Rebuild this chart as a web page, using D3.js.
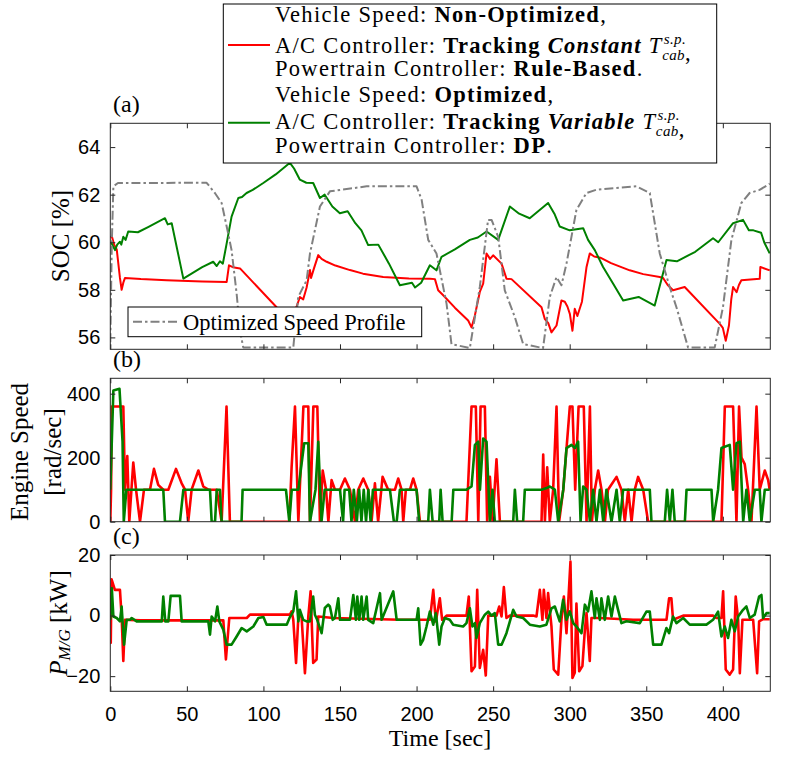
<!DOCTYPE html>
<html>
<head>
<meta charset="utf-8">
<script src="https://cdn.jsdelivr.net/npm/d3@7"></script>
<style>
  body { margin: 0; background: #fff; }
  text { fill: #000; }
</style>
</head>
<body>
<div id="fig"></div>
<script>
// tick values
const timeTicks = [0, 50, 100, 150, 200, 250, 300, 350, 400];
const socTicks = [56, 58, 60, 62, 64];
const engTicks = [0, 200, 400];
const pmgTicks = [-20, 0, 20];

// (a) SOC [%]  -- [time, value]
const socRed = [[0,60.2],[1,60.25],[2.5,59.9],[4.2,59.7],[6.3,58.5],[7.4,58],[8.5,58.3],[9.6,58.5],[20,58.45],[36.8,58.4],[60,58.35],[76,58.33],[77.5,59.03],[80,58.95],[84.7,58.9],[108.6,57.27],[116,56.8],[121.7,57.3],[123.8,57.7],[126,57.6],[128.2,58.1],[130.4,58.83],[131.1,58.5],[133,58.9],[135.8,59.46],[138,59.3],[141.3,59.18],[147,59.02],[156.5,58.83],[165,58.68],[178.2,58.54],[195,58.48],[208.7,58.47],[212,58.45],[214.1,57.98],[217.4,57.77],[225,57.25],[233.7,56.71],[235.9,56.42],[238,56.9],[241.3,57.91],[243.5,58.26],[245.7,59.53],[248,59.3],[250,59.45],[255.5,59.1],[258.7,58.47],[262,58.45],[281.6,57.27],[283.7,56.78],[286,56.6],[288.1,56.21],[291.4,56.5],[294.6,57.55],[296.8,57.5],[298.5,57.3],[300.1,56.99],[301.8,56.28],[303.3,57.2],[305,56.9],[308,57.5],[311,58.96],[313.1,59.53],[316,59.4],[320,59.35],[327,59.12],[339.2,58.82],[348,58.66],[358.8,58.54],[361,58.5],[364,58.2],[367.5,57.98],[375.1,58.12],[398,56.57],[400,56.4],[401.9,55.86],[404,56.5],[405.5,57.6],[406.7,58.12],[409,57.9],[410.5,58.2],[412.1,58.4],[424.1,58.47],[424.5,58.96],[430.6,58.82]];
const socGreen = [[0,60],[0.9,59.95],[3.1,59.67],[4.5,59.9],[6.3,60.02],[7.2,59.9],[8.5,60.23],[10,60.1],[11.7,60.45],[18,60.42],[25,60.65],[35.7,61.01],[37.5,60.75],[40.1,60.8],[47.7,58.47],[60,58.95],[67.2,59.18],[69.5,59],[71.6,59.2],[73.5,59.1],[76,59.95],[79.2,61.08],[83.6,61.86],[86,61.9],[89,62.07],[93,62.2],[99.9,62.49],[108,62.85],[117.3,63.34],[120,63.1],[123.8,62.63],[128,62.5],[132.5,62.49],[136.9,61.86],[140,62],[145,61.5],[149.9,61.22],[155,61.3],[160,60.8],[164,60.5],[168.4,59.88],[175,59.9],[182,59.1],[189.1,58.19],[197,58.3],[199,58.1],[203,58.3],[208.7,59.03],[213,58.82],[216.3,59.39],[225,59.7],[234.8,60.1],[240,60.2],[245.7,60.45],[253.3,60.1],[260.9,61.5],[267,61.2],[273.9,61.01],[285.9,61.65],[290,61.2],[293.5,60.66],[300,60.5],[308.8,60.59],[312,60.1],[316.4,59.67],[321.8,58.96],[328,58.3],[334.9,57.55],[345,57.7],[355.5,57.34],[363.2,59.25],[370,59.2],[382,59.6],[393.6,60.17],[397,60],[406.7,60.8],[413.2,60.94],[417,60.5],[420,60.5],[425,60.4],[427,60],[430.6,59.53]];
const speedProfile = [[0,55.8],[1,60],[2,62.35],[5,62.49],[62.9,62.5],[68.3,62.07],[72.7,61.65],[76,60.66],[79.2,59.67],[82.5,57.84],[84.7,56.29],[86.8,55.58],[119.5,55.58],[122.7,57.7],[128.2,58.4],[130.4,59.53],[136.9,61.5],[143.4,62.14],[167.4,62.35],[200,62.35],[203.3,61.79],[207.6,60.1],[213,59.53],[219.6,57.41],[222.8,55.72],[234.8,55.55],[241.3,58.12],[246.7,60.94],[249,60.94],[253.3,60.23],[257.6,57.98],[264.2,56.85],[269.6,55.72],[282.6,55.55],[287,57.7],[291.4,58.54],[294.6,58.19],[297.9,59.1],[304.4,61.36],[310.9,62.07],[317.5,62.21],[343.6,62.35],[352.3,62.07],[358.8,59.53],[365.3,58.12],[369.7,57.27],[377.3,55.58],[394.7,55.58],[400.1,57.27],[405.6,60.1],[412.1,61.65],[417.5,62.07],[424,62.2],[430.6,62.46]];

// (b) Engine speed [rad/sec]
const engRed = [[0,0],[0.5,100],[1,360],[8.5,360],[9.6,100],[11.1,205],[12.4,0],[15,185],[16.8,100],[19.4,0],[22,100],[25.9,100],[28.5,165],[31.3,115],[34.6,100],[37.9,100],[42.9,165],[46.6,120],[48.8,100],[50.9,0],[53.1,100],[57.5,160],[60.7,110],[64,100],[69.5,100],[72.7,0],[75.9,360],[78.1,0],[116.9,0],[118.4,170],[120.6,360],[122.8,0],[126.1,360],[129.3,360],[130.4,0],[132.6,360],[135.2,360],[136.9,0],[138.7,160],[140.9,100],[142.4,0],[144.5,130],[146.7,100],[150,100],[153.2,135],[156.5,100],[159.8,0],[161.9,100],[165.2,135],[168.4,100],[170.6,0],[172.8,120],[174.9,0],[177.8,140],[181.5,100],[185.9,100],[188,135],[190.2,100],[191.3,0],[193,100],[195.7,100],[197.8,135],[200,100],[202.2,0],[232.6,0],[235.9,360],[238.7,360],[240.3,0],[241.8,360],[244.6,360],[246.1,0],[247.9,140],[249.6,0],[252.2,195],[254.4,0],[281.6,0],[282.7,210],[283.8,0],[285.3,170],[287,0],[289.2,100],[291.4,360],[293.1,0],[295.8,100],[300.1,360],[301.8,360],[303.6,100],[305.8,360],[309.2,360],[311,0],[313.2,360],[314.5,0],[316.4,100],[318.6,160],[320.8,100],[323,0],[325,100],[330.6,140],[333.8,100],[336,0],[338.2,100],[340.4,0],[342.5,100],[344.7,140],[348,100],[351.2,0],[399.1,0],[401.3,360],[406.7,360],[408.9,0],[410.6,360],[412.2,200],[414.3,180],[416.5,100],[418.7,0],[422,360],[424.1,100],[427.4,160],[429.6,130],[430.6,100]];
const engGreen = [[0,100],[2,410],[6,415],[8,250],[8.8,0],[10.5,100],[34.6,100],[35.7,0],[45.5,0],[47.7,100],[65.1,100],[66.2,0],[68.4,0],[69.5,100],[71.6,100],[72.7,0],[85.7,0],[86.4,100],[114.7,100],[116.9,0],[118.5,100],[122.8,100],[126.6,245],[129.3,245],[130.4,0],[134,100],[135.8,250],[137.9,0],[140,100],[150,100],[152,0],[153,100],[156,100],[157.5,0],[159,100],[161,0],[162.5,100],[164,0],[165.5,100],[167,0],[168.5,100],[170,0],[171.5,100],[182.6,100],[185.2,0],[187,0],[189.1,100],[200,100],[201.7,0],[207.6,0],[208.7,100],[210.5,0],[214.8,0],[215.7,100],[217,0],[222.9,0],[224,100],[232.6,100],[235.9,110],[238.1,240],[240.3,250],[241.4,100],[243.5,260],[245.7,250],[247.9,0],[249.6,100],[251.1,0],[263.1,0],[264.2,100],[265.7,0],[269.6,0],[270.7,100],[281.6,100],[284.9,105],[287,110],[290.3,100],[292.5,0],[295.8,100],[297.9,230],[301.2,240],[303.4,230],[305.5,250],[307.1,0],[308.8,110],[311,100],[313.2,0],[315.3,100],[317.5,0],[319.7,100],[321.9,0],[324,100],[327.3,0],[330.6,100],[332.7,0],[334.9,100],[352.3,100],[353.4,0],[362.1,0],[363.6,100],[365.4,0],[367.1,100],[368.6,0],[375.2,0],[376.3,100],[392.6,100],[393.7,0],[396.9,100],[399.1,230],[404.5,240],[406.7,100],[408.9,245],[411.1,250],[413.3,0],[415.4,100],[417.6,0],[420.9,100],[424.1,100],[425.2,0],[427.4,100],[430.6,100]];

// (c) P_M/G [kW]
const pmgRed = [[0,-1],[0.3,-9],[0.8,12],[3,8.5],[6.3,8.5],[7.4,-0.3],[8.5,-15],[9.6,-1.4],[20,-1.6],[73.8,-1.6],[75.5,-14.5],[77.7,-0.8],[89.1,-0.8],[91.2,0.3],[117.3,0.3],[118.4,1.4],[119.5,-1.4],[121.3,-15.6],[122.8,-0.3],[124.9,-0.3],[127.1,-19],[129.3,-0.3],[130.8,8],[132.5,-15.6],[134.7,-14.5],[135.8,-0.3],[145.6,-0.8],[189.1,-1.4],[208.7,-1.4],[210.9,8.5],[212.6,-1.9],[215.2,5.7],[216.7,-1.4],[219.6,0],[232.6,0],[234.1,6.3],[235.9,-18.4],[238.1,-16.8],[239.6,8.5],[241.3,-17.3],[243.5,-11.3],[245.2,-19.8],[246.8,0],[252.2,0],[254,3],[255.5,-0.3],[257,9.4],[258.7,-0.8],[260.9,0],[276.1,0],[278.3,-0.3],[280.5,8.5],[282.2,-1.4],[283.1,8.5],[284.8,-0.8],[285.9,7.4],[288.1,-3.6],[289.6,-17.8],[292.5,-19.5],[294.6,-1.4],[296.2,6.3],[297.9,-5.8],[299,4],[300.5,17.8],[301.8,-20.6],[303.3,-18.9],[304.4,4],[306.2,-18.4],[308.3,-16.7],[309.9,-4.7],[311,0.8],[313.1,-15],[314.2,-0.8],[319.7,-0.8],[341.4,-1.4],[363.2,-1.4],[364.9,5.7],[366.4,5.7],[367.5,-1.4],[374.1,0],[393.6,0],[395.8,-0.8],[399.1,-0.8],[400.2,8],[401.9,-17.8],[404.5,-19.5],[406.7,-17.8],[408.4,6.3],[410,-1.4],[411.1,-19],[412.8,-1.4],[419.8,-1.4],[422.4,-19],[423.7,-1.9],[426.3,-1.2],[430.6,-1.2]];
const pmgGreen = [[0,-1.4],[1,9],[2,-0.3],[4.2,-0.8],[6.3,-1.9],[7.4,3],[9,-9.6],[10.7,-1.4],[12.9,-1.4],[14,-0.8],[17.2,-1.9],[33.6,-1.9],[34.6,6.3],[35.9,-1.9],[37.9,-1.9],[39.4,6.5],[45.5,6.5],[46.6,-1.9],[64,-1.9],[65.1,-6.3],[66.2,-0.3],[68.4,-1.9],[69.9,3],[71.2,-1.9],[73.8,-4.7],[76,-9.6],[79.2,-9.6],[82.5,-6.9],[85.8,-4.1],[89.1,-5.2],[93.4,-3.6],[96.7,-0.8],[100,-0.5],[102.1,-3],[115.2,-3],[117.3,-0.5],[119.5,1.4],[121.3,8],[122.8,-1.9],[123.8,1.9],[126,-1.4],[128.2,-1.9],[130.4,-1.9],[132.5,6.3],[133.6,0.3],[135.1,-1.4],[138,-5.8],[140.1,2.5],[142.3,3.6],[143.4,3],[145.2,-1.4],[146.7,-0.8],[148.9,5.7],[150,-1.4],[156.5,-1.4],[158.7,6.8],[160.4,-1.4],[161.3,6.3],[162.6,-1.4],[164.1,6.3],[165.2,-1.4],[167.4,6.3],[168.4,-1.4],[171.7,-2.5],[176.1,7.4],[177.2,-1.4],[184.8,8],[187,-1.4],[190.2,-1.4],[200,-1.4],[201.1,2.4],[202.6,-9.6],[204.3,-8],[206.5,-3.6],[208.7,1.3],[210.9,-3],[212.6,0.8],[214.8,-9.6],[216.3,-3.6],[218.5,-0.8],[221.7,-1.4],[223.9,-3],[230.4,-3.6],[232.6,-2.5],[234.8,2.4],[236.5,-3.6],[238.1,-2.5],[239.1,-7.4],[241.3,-2.5],[244.6,0.3],[246.8,1.3],[248.9,0],[251.1,0.8],[253.3,-9.6],[255.5,-9.6],[258.7,-5.8],[263.1,1.9],[265.3,-0.3],[269.6,-0.8],[274,-3],[280.5,-3.6],[284.8,-3],[288.1,2.4],[290.3,3],[293.5,-1.9],[295.7,5.2],[297.9,-1.4],[300.1,1.4],[302.3,-2.5],[304.4,-3.6],[307.7,-5.8],[309.9,3.6],[312,1.4],[314.2,8],[316.4,-0.8],[317.5,5.7],[319.7,-1.4],[320.7,5.7],[322.9,-1.4],[325.1,6.3],[327.3,-0.3],[329.5,6.3],[331.6,1.9],[333.8,-2.5],[337.1,-1.9],[345.8,-2.5],[350.1,1.3],[352.3,1.3],[354.5,-9.6],[359.9,-9.6],[363.2,-4.1],[364.9,-5.8],[367.5,-0.3],[369.7,-2.5],[374.1,-0.8],[378.4,-3],[389.3,-3],[393.6,-1.4],[396.9,1.3],[399.1,-6.9],[401.3,-3.6],[403.4,-7.4],[405.6,-1.4],[407.8,-5.2],[410,-0.3],[413.2,1.9],[415.4,3],[417.6,-0.8],[420.8,0.3],[423.7,6.3],[425.2,6.8],[426.3,-0.8],[428.5,0.8],[430.6,0.8]];

const width = 787, height = 760;
const plotLeft = 110.3, plotRight = 770.3;
const red = '#ff0000', green = '#008000', grey = '#808080', axisColor = '#262626';
const serif = '"Liberation Serif", "Times New Roman", serif';
const sans = '"Liberation Sans", Arial, sans-serif';

const svg = d3.select('#fig').append('svg')
  .attr('width', width).attr('height', height);

const x = d3.scaleLinear().domain([0, 431]).range([plotLeft, plotRight]);

const panels = [
  {key: 'a', top: 123.3, bottom: 349.3, domain: [55.5, 65], ticks: socTicks,
   series: [{d: socRed, c: red, w: 2}, {d: socGreen, c: green, w: 2}, {d: speedProfile, c: grey, w: 2, dash: '9,3,2.5,3'}]},
  {key: 'b', top: 378.3, bottom: 521.7, domain: [0, 448], ticks: engTicks,
   series: [{d: engRed, c: red, w: 2.6}, {d: engGreen, c: green, w: 2.6}]},
  {key: 'c', top: 555, bottom: 691.3, domain: [-25, 20], ticks: pmgTicks,
   series: [{d: pmgRed, c: red, w: 2.6}, {d: pmgGreen, c: green, w: 2.6}]}
];

panels.forEach((p, i) => {
  p.y = d3.scaleLinear().domain(p.domain).range([p.bottom, p.top]);
  const g = svg.append('g');

  g.append('clipPath').attr('id', 'clip-' + p.key)
    .append('rect')
    .attr('x', plotLeft).attr('y', p.top)
    .attr('width', plotRight - plotLeft).attr('height', p.bottom - p.top);

  const line = d3.line().x(d => x(d[0])).y(d => p.y(d[1]));
  g.append('g').attr('clip-path', `url(#clip-${p.key})`)
    .selectAll('path')
    .data(p.series)
    .join('path')
    .attr('fill', 'none')
    .attr('stroke', s => s.c)
    .attr('stroke-width', s => s.w)
    .attr('stroke-linejoin', 'round')
    .attr('stroke-dasharray', s => s.dash || null)
    .attr('d', s => line(s.d));

  // box + inward ticks on all four sides
  const styleAxis = sel => {
    sel.select('.domain').remove();
    sel.selectAll('line').attr('stroke', axisColor);
    sel.selectAll('text').attr('fill', axisColor)
      .style('font-family', sans).style('font-size', '20px');
  };
  g.append('g').attr('transform', `translate(${plotLeft},0)`)
    .call(d3.axisLeft(p.y).tickValues(p.ticks).tickSize(-5).tickPadding(10))
    .call(styleAxis);
  g.append('g').attr('transform', `translate(${plotRight},0)`)
    .call(d3.axisRight(p.y).tickValues(p.ticks).tickSize(-5).tickFormat(''))
    .call(styleAxis);
  g.append('g').attr('transform', `translate(0,${p.top})`)
    .call(d3.axisTop(x).tickValues(timeTicks).tickSize(-5).tickFormat(''))
    .call(styleAxis);
  const bottomAxis = d3.axisBottom(x).tickValues(timeTicks).tickSize(-5).tickPadding(16);
  if (i < 2) bottomAxis.tickFormat('');
  g.append('g').attr('transform', `translate(0,${p.bottom})`)
    .call(bottomAxis)
    .call(styleAxis);
  g.append('rect')
    .attr('x', plotLeft).attr('y', p.top)
    .attr('width', plotRight - plotLeft).attr('height', p.bottom - p.top)
    .attr('fill', 'none').attr('stroke', axisColor).attr('stroke-width', 1);

  g.append('text')
    .attr('x', 113).attr('y', p.top - 11)
    .style('font-family', serif).style('font-size', '24px')
    .text(`(${p.key})`);
});

// y labels
svg.append('text')
  .attr('transform', 'translate(60,236) rotate(-90)')
  .attr('text-anchor', 'middle').attr('dominant-baseline', 'central')
  .style('font-family', serif).style('font-size', '25px')
  .text('SOC [%]');

const engLabel = svg.append('text')
  .attr('transform', 'translate(20,452) rotate(-90)')
  .attr('text-anchor', 'middle')
  .style('font-family', serif).style('font-size', '25px');
engLabel.append('tspan').attr('x', 0).attr('dy', '0.3em').text('Engine Speed');
engLabel.append('tspan').attr('x', 0).attr('dy', 33).text('[rad/sec]');

const pLabel = svg.append('text')
  .attr('transform', 'translate(58,623) rotate(-90)')
  .attr('text-anchor', 'middle').attr('dominant-baseline', 'central')
  .style('font-family', serif).style('font-size', '25px');
pLabel.append('tspan').style('font-style', 'italic').text('P');
pLabel.append('tspan').attr('dy', 6).style('font-style', 'italic').style('font-size', '17px').text('M/G');
pLabel.append('tspan').attr('dy', -6).text(' [kW]');

svg.append('text')
  .attr('x', 440).attr('y', 746)
  .attr('text-anchor', 'middle')
  .style('font-family', serif).style('font-size', '24px')
  .text('Time [sec]');

// speed-profile legend inside (a)
const spLeg = svg.append('g');
spLeg.append('rect')
  .attr('x', 128).attr('y', 307).attr('width', 293.7).attr('height', 29.7)
  .attr('fill', '#fff').attr('stroke', '#000').attr('stroke-width', 1);
spLeg.append('line')
  .attr('x1', 133).attr('x2', 180).attr('y1', 321.7).attr('y2', 321.7)
  .attr('stroke', grey).attr('stroke-width', 2).attr('stroke-dasharray', '9,3,2.5,3');
spLeg.append('text')
  .attr('x', 183).attr('y', 329.5)
  .style('font-family', serif).style('font-size', '22.5px')
  .text('Optimized Speed Profile');

// main legend
const legendLines = [
  [{t: 'Vehicle Speed: '}, {t: 'Non-Optimized', b: 1}, {t: ','}],
  [{t: 'A/C Controller: '}, {t: 'Tracking ', b: 1}, {t: 'Constant', b: 1, i: 1}, {t: ' '}, {tsp: 1}, {t: ','}],
  [{t: 'Powertrain Controller: '}, {t: 'Rule-Based', b: 1}, {t: '.'}],
  [{t: 'Vehicle Speed: '}, {t: 'Optimized', b: 1}, {t: ','}],
  [{t: 'A/C Controller: '}, {t: 'Tracking ', b: 1}, {t: 'Variable', b: 1, i: 1}, {t: ' '}, {tsp: 1}, {t: ','}],
  [{t: 'Powertrain Controller: '}, {t: 'DP', b: 1}, {t: '.'}]
];
const legendBaselines = [22, 53, 76, 102, 128.5, 153];
const legendSwatches = [{c: red, y: 45}, {c: green, y: 122.7}];

const leg = svg.append('g');
leg.append('rect')
  .attr('x', 223.3).attr('y', 4).attr('width', 493.4).attr('height', 159)
  .attr('fill', '#fff').attr('stroke', '#000').attr('stroke-width', 1);
leg.selectAll('line')
  .data(legendSwatches)
  .join('line')
  .attr('x1', 228).attr('x2', 270)
  .attr('y1', d => d.y).attr('y2', d => d.y)
  .attr('stroke', d => d.c).attr('stroke-width', 2);

legendLines.forEach((segs, k) => {
  const t = leg.append('text')
    .attr('x', 275).attr('y', legendBaselines[k])
    .style('font-family', serif).style('font-size', '22.5px')
    .style('letter-spacing', '1.3px');
  segs.forEach(s => {
    if (s.tsp) {
      t.append('tspan').style('font-style', 'italic').text('T');
      t.append('tspan').attr('dx', 1).attr('dy', -9).style('font-style', 'italic').style('font-size', '15px')
        .style('letter-spacing', '0.4px').text('s.p.');
      t.append('tspan').attr('dx', -24).attr('dy', 16).style('font-style', 'italic').style('font-size', '15px')
        .style('letter-spacing', '0.4px').text('cab');
      t.append('tspan').attr('dy', -7).text('');
      return;
    }
    t.append('tspan')
      .style('font-weight', s.b ? 'bold' : null)
      .style('font-style', s.i ? 'italic' : null)
      .text(s.t);
  });
});
</script>
</body>
</html>
